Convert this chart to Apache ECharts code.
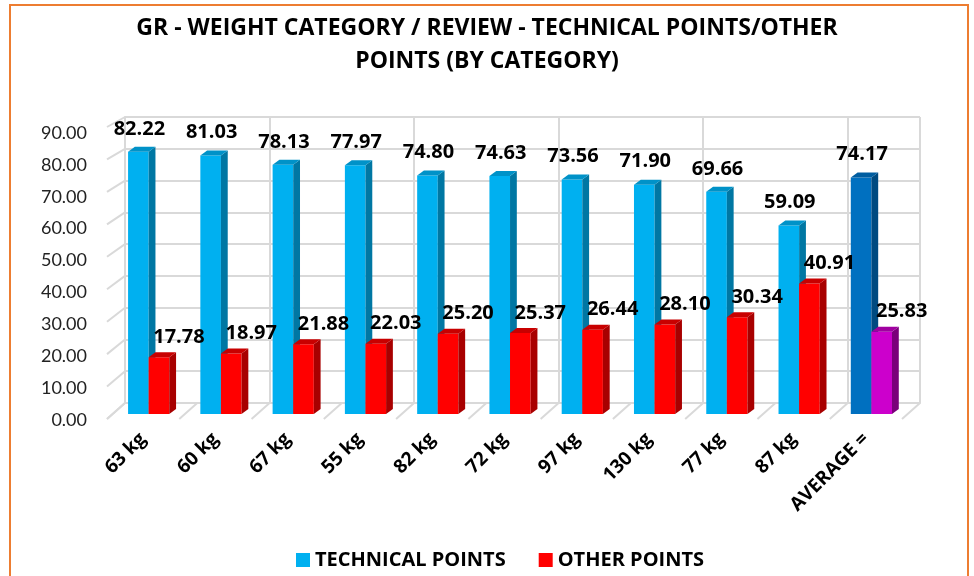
<!DOCTYPE html>
<html>
<head>
<meta charset="utf-8">
<script src="https://cdn.jsdelivr.net/npm/echarts@6/dist/echarts.min.js"></script>
<style>
  html, body { margin: 0; padding: 0; background: #fff; }
  #chart { width: 974px; height: 576px; }
</style>
</head>
<body>
<div id="chart"></div>
<script>
    // categories and values
    var categories = ['63 kg', '60 kg', '67 kg', '55 kg', '82 kg', '72 kg', '97 kg', '130 kg', '77 kg', '87 kg', 'AVERAGE ='];
    var technicalPoints = [82.22, 81.03, 78.13, 77.97, 74.80, 74.63, 73.56, 71.90, 69.66, 59.09, 74.17];
    var otherPoints = [17.78, 18.97, 21.88, 22.03, 25.20, 25.37, 26.44, 28.10, 30.34, 40.91, 25.83];
    var yTicks = [0, 10, 20, 30, 40, 50, 60, 70, 80, 90];

    var FONT = 'Lato, "Open Sans", sans-serif';
    var BOLD = '"Open Sans", "Noto Sans", sans-serif';
    var GRID_GRAY = '#D9D9D9';

    // front / side / top colours, last entry is the average column
    var techColors = { front: '#00B0F0', side: '#0077A3', top: '#0092C8' };
    var techAvg = { front: '#0070C0', side: '#004A80', top: '#005DA0' };
    var otherColors = { front: '#FF0000', side: '#A80000', top: '#C80000' };
    var otherAvg = { front: '#CC00CC', side: '#7A007A', top: '#A000A0' };

    var chart = echarts.init(document.getElementById('chart'));

    function bar3d(which) {
        return function (params, api) {
            var cat = api.value(0);
            var val = api.value(1);
            var band = api.size([1, 0])[0];
            var base = api.coord([cat, 0]);
            var top = api.coord([cat, val]);
            var w = band * 0.285;
            var dx = band * 0.094;
            var dy = 5;
            var x0 = base[0] - 0.333 * band + (which === 0 ? 0 : w);
            var isAvg = cat === categories.length - 1;
            var col = which === 0 ? (isAvg ? techAvg : techColors) : (isAvg ? otherAvg : otherColors);
            var h = base[1] - top[1];
            var labelX = x0 + w / 2 + (which === 0 ? 1 : 20);
            var labelY = top[1] - (which === 0 ? 23 : 20);
            return {
                type: 'group',
                children: [
                    { type: 'rect', shape: { x: x0, y: top[1], width: w, height: h }, style: { fill: col.front } },
                    { type: 'polygon', shape: { points: [[x0 + w, top[1]], [x0 + w + dx, top[1] - dy], [x0 + w + dx, base[1] - dy], [x0 + w, base[1]]] }, style: { fill: col.side } },
                    { type: 'polygon', shape: { points: [[x0, top[1]], [x0 + dx, top[1] - dy], [x0 + w + dx, top[1] - dy], [x0 + w, top[1]]] }, style: { fill: col.top } },
                    { type: 'text', style: { x: labelX, y: labelY, text: val.toFixed(2), align: 'center', verticalAlign: 'middle', font: 'bold 20px ' + BOLD, fill: '#000' } }
                ]
            };
        };
    }

    var option = {
        backgroundColor: '#fff',
        animation: false,
        title: {
            text: 'GR - WEIGHT CATEGORY / REVIEW - TECHNICAL POINTS/OTHER\nPOINTS (BY CATEGORY)',
            left: 'center',
            top: 7,
            textStyle: { fontFamily: BOLD, fontWeight: 'bold', fontSize: 23, lineHeight: 33, color: '#000' }
        },
        legend: {
            data: ['TECHNICAL POINTS', 'OTHER POINTS'],
            left: 291,
            top: 545,
            icon: 'rect',
            itemWidth: 14,
            itemHeight: 14,
            itemGap: 33,
            textStyle: { fontFamily: BOLD, fontWeight: 'bold', fontSize: 20, color: '#000' }
        },
        graphic: [{
            type: 'rect',
            shape: { x: 10, y: 5, width: 958, height: 620 },
            style: { fill: null, stroke: '#ED7D31', lineWidth: 2 },
            silent: true
        }],
        grid: [
            { left: 125, right: 54, top: 117, bottom: 173 },   // back wall
            { left: 107, right: 72, top: 133, bottom: 156 },   // front plane (labels)
            { left: 116, right: 63, top: 127, bottom: 162 }    // bars
        ],
        xAxis: [
            {
                gridIndex: 0, type: 'category', data: categories,
                axisLine: { show: true, lineStyle: { color: GRID_GRAY, width: 2 } },
                axisTick: { show: false }, axisLabel: { show: false },
                splitLine: { show: true, lineStyle: { color: GRID_GRAY, width: 2 } }
            },
            {
                gridIndex: 1, type: 'category', data: categories,
                axisLine: { show: false }, axisTick: { show: false },
                axisLabel: { rotate: 45, margin: 16, interval: 0, fontFamily: BOLD, fontWeight: 'bold', fontSize: 19, color: '#000' }
            },
            { gridIndex: 2, type: 'category', data: categories, show: false }
        ],
        yAxis: [
            {
                gridIndex: 0, type: 'value', min: 0, max: 90, interval: 10,
                axisLine: { show: true, lineStyle: { color: GRID_GRAY, width: 2 } },
                axisLabel: { show: false }, axisTick: { show: false },
                splitLine: { lineStyle: { color: GRID_GRAY, width: 2 } }
            },
            {
                gridIndex: 1, type: 'value', min: 0, max: 90, interval: 10,
                axisLine: { show: false }, axisTick: { show: false }, splitLine: { show: false },
                axisLabel: { margin: 20, fontFamily: FONT, fontSize: 18, color: '#222', formatter: function (v) { return v.toFixed(2); } }
            },
            { gridIndex: 2, type: 'value', min: 0, max: 90, show: false }
        ],
        series: [
            {
                // left side wall: diagonals from the back wall to the front plane
                type: 'custom', xAxisIndex: 0, yAxisIndex: 0, silent: true,
                data: yTicks.map(function (v) { return [0, v]; }),
                renderItem: function (params, api) {
                    var v = api.value(1);
                    var p = api.coord([0, v]);
                    var x = params.coordSys.x;
                    var dy = 16 - 6 * v / 90;
                    return { type: 'line', shape: { x1: x, y1: p[1], x2: x - 18, y2: p[1] + dy }, style: { stroke: GRID_GRAY, lineWidth: 2 } };
                }
            },
            {
                // floor: diagonals at each category boundary
                type: 'custom', xAxisIndex: 0, yAxisIndex: 0, silent: true,
                data: categories.concat(['']).map(function (c, i) { return [i, 0]; }),
                renderItem: function (params, api) {
                    var i = api.value(0);
                    var band = api.size([1, 0])[0];
                    var x = params.coordSys.x + i * band;
                    var y = api.coord([0, 0])[1];
                    return { type: 'line', shape: { x1: x, y1: y, x2: x - 18, y2: y + 16 }, style: { stroke: GRID_GRAY, lineWidth: 2 } };
                }
            },
            {
                name: 'TECHNICAL POINTS', type: 'custom', xAxisIndex: 2, yAxisIndex: 2,
                itemStyle: { color: '#00B0F0' },
                data: technicalPoints.map(function (v, i) { return [i, v]; }),
                renderItem: bar3d(0)
            },
            {
                name: 'OTHER POINTS', type: 'custom', xAxisIndex: 2, yAxisIndex: 2,
                itemStyle: { color: '#FF0000' },
                data: otherPoints.map(function (v, i) { return [i, v]; }),
                renderItem: bar3d(1)
            }
        ]
    };
    chart.setOption(option);
</script>
</body>
</html>
